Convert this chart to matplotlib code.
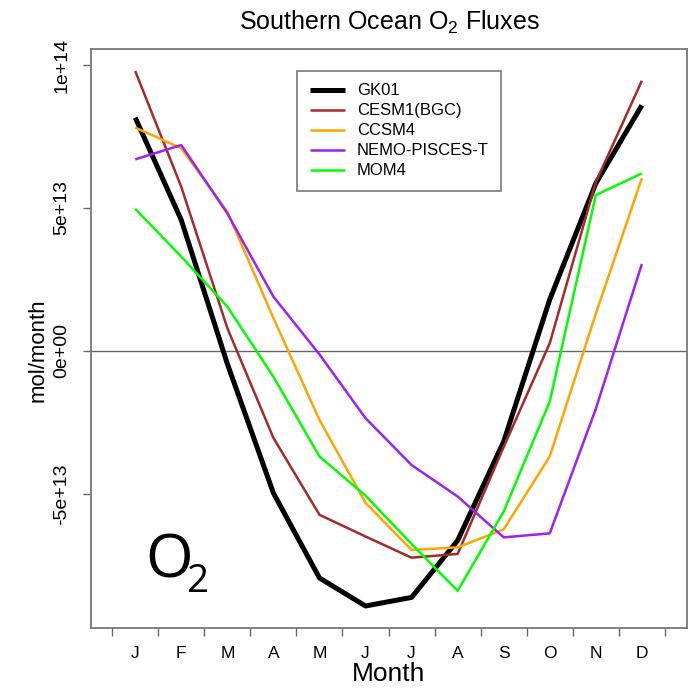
import matplotlib
matplotlib.use("Agg")
import matplotlib.pyplot as plt

plt.rcParams['font.family'] = ['Liberation Sans', 'DejaVu Sans']
plt.rcParams['mathtext.fontset'] = 'custom'
plt.rcParams['mathtext.rm'] = 'Liberation Sans'
plt.rcParams['mathtext.it'] = 'Liberation Sans:italic'
plt.rcParams['mathtext.bf'] = 'Liberation Sans:bold'

months = [1, 2, 3, 4, 5, 6, 7, 8, 9, 10, 11, 12]
month_labels = ["J", "F", "M", "A", "M", "J", "J", "A", "S", "O", "N", "D"]

# monthly O2 fluxes, units of 1e13 mol/month
gk01 = [8.16, 4.58, -0.45, -4.97, -7.94, -8.92, -8.62, -6.63, -3.17, 1.8, 5.86, 8.59]
cesm1 = [9.79, 5.74, 0.8, -3.04, -5.73, -6.49, -7.23, -7.10, -3.36, 0.27, 5.9, 9.45]
ccsm4 = [7.81, 7.09, 4.87, 1.15, -2.41, -5.31, -6.96, -6.87, -6.24, -3.69, 1.3, 6.04]
nemo = [6.70, 7.20, 4.81, 1.90, -0.12, -2.35, -3.99, -5.09, -6.52, -6.38, -2.03, 3.04]
mom4 = [4.97, 3.3, 1.55, -0.90, -3.69, -5.06, -6.75, -8.39, -5.62, -1.77, 5.45, 6.21]

series = [
    ("GK01", gk01, "black", 3.6),
    ("CESM1(BGC)", cesm1, "#A52A2A", 1.8),
    ("CCSM4", ccsm4, "#FFA500", 1.8),
    ("NEMO-PISCES-T", nemo, "#A020F0", 1.8),
    ("MOM4", mom4, "#00FF00", 1.8),
]

W, H = 697, 688
fig = plt.figure(figsize=(W / 100, H / 100), dpi=100)
L, R, T, B = 91, 687, 49, 628
ax = fig.add_axes([L / W, 1 - B / H, (R - L) / W, (B - T) / H])

ax.axhline(0, color="#666666", lw=1.0, zorder=1)
for name, vals, col, lw in series:
    ax.plot(months, [v * 1e13 for v in vals], color=col, lw=lw, label=name,
            solid_joinstyle="round", solid_capstyle="butt", zorder=3)

ax.set_xlim(0.04, 12.98)
ax.set_ylim(-9.69e13, 1.056e14)

# month-boundary ticks without labels, month labels without ticks
ax.set_xticks([m - 0.5 for m in months] + [12.5])
ax.set_xticklabels([])
ax.set_xticks(months, minor=True)
ax.set_xticklabels(month_labels, minor=True, fontsize=12.5)
ax.tick_params(axis="x", which="major", length=6, width=1, color="#666666", direction="out")
ax.tick_params(axis="x", which="minor", length=0, pad=13)

yt = [-5e13, 0, 5e13, 1e14]
ax.set_yticks(yt)
ax.set_yticklabels(["-5e+13", "0e+00", "5e+13", "1e+14"], rotation=90, va="center",
                   fontsize=14)
ax.tick_params(axis="y", length=6, width=1, color="#666666", direction="out", pad=9)

for s in ax.spines.values():
    s.set_color("#777777")
    s.set_linewidth(1.3)

ax.set_title("Southern Ocean O$_2$ Fluxes", fontsize=18, pad=14)
ax.set_xlabel("Month", fontsize=19, va="center")
ax.xaxis.set_label_coords(0.5, -(674 - B) / (B - T))
ax.set_ylabel("mol/month", fontsize=16, va="center")
ax.yaxis.set_label_coords(-(L - 38) / (R - L), (B - 350) / (B - T))

leg = ax.legend(loc="upper left", bbox_to_anchor=((297 - L) / (R - L), 1 - (71 - T) / (B - T)),
                fontsize=12, frameon=True, fancybox=False, framealpha=1,
                edgecolor="#777777", handlelength=2.1, handletextpad=0.75,
                borderpad=0.75, labelspacing=0.3, borderaxespad=0)
leg.get_frame().set_linewidth(1.2)

fig.text(145 / W, 1 - 578 / H, "O", fontsize=44, family="Open Sans", ha="left", va="baseline")
fig.text(186 / W, 1 - 592 / H, "2", fontsize=28, family="Open Sans", ha="left", va="baseline")

fig.savefig("out.png", dpi=100)
